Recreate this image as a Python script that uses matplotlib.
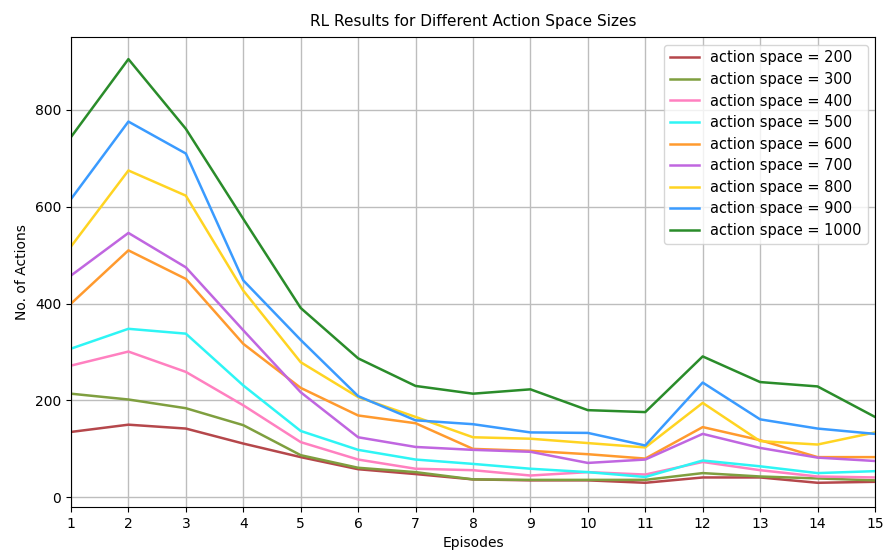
import matplotlib
matplotlib.use("Agg")
import matplotlib.pyplot as plt

episodes = list(range(1, 16))

as200 = [135, 150, 142, 111, 83, 58, 48, 37, 35, 35, 30, 41, 41, 30, 32]
as300 = [214, 202, 184, 149, 87, 61, 52, 37, 36, 36, 36, 50, 43, 39, 35]
as400 = [272, 301, 259, 190, 114, 78, 59, 56, 45, 52, 47, 73, 56, 43, 41]
as500 = [307, 348, 338, 231, 137, 98, 78, 69, 59, 52, 42, 76, 64, 50, 54]
as600 = [400, 510, 451, 317, 226, 169, 153, 100, 96, 89, 80, 145, 118, 83, 83]
as700 = [458, 546, 475, 345, 217, 124, 104, 98, 94, 71, 78, 131, 102, 82, 75]
as800 = [518, 675, 623, 427, 279, 207, 166, 124, 121, 112, 103, 195, 116, 109, 134]
as900 = [616, 776, 710, 448, 325, 209, 159, 151, 134, 133, 107, 237, 161, 142, 131]
as1000 = [744, 905, 761, 575, 391, 287, 230, 214, 223, 180, 176, 291, 238, 229, 166]

series = [as200, as300, as400, as500, as600, as700, as800, as900, as1000]
labels = ["action space = 200", "action space = 300", "action space = 400",
          "action space = 500", "action space = 600", "action space = 700",
          "action space = 800", "action space = 900", "action space = 1000"]
colors = ["#b5474b", "#7f9f3f", "#ff80c0", "#2ef5f5", "#ff9a2e",
          "#c066e0", "#ffd422", "#3a9bff", "#2a8c2a"]

fig = plt.figure(figsize=(8.84, 5.53), dpi=100)
ax = fig.add_axes([0.0803, 0.0832, 0.9095, 0.8493])
for vals, lab, col in zip(series, labels, colors):
    ax.plot(episodes, vals, color=col, lw=1.8, label=lab)

ax.set_xlim(1, 15)
ax.set_ylim(-20, 950)
ax.set_xticks(episodes)
ax.set_yticks([0, 200, 400, 600, 800])
ax.grid(True, color="#bdbdbd", lw=1.0)
ax.set_axisbelow(True)
ax.set_title("RL Results for Different Action Space Sizes", fontsize=11, pad=8)
ax.set_xlabel("Episodes", fontsize=10)
ax.set_ylabel("No. of Actions", fontsize=10)
ax.tick_params(labelsize=10)
ax.legend(loc="upper right", fontsize=10.5, framealpha=0.8, labelspacing=0.45)

fig.savefig("out.png", dpi=100)
